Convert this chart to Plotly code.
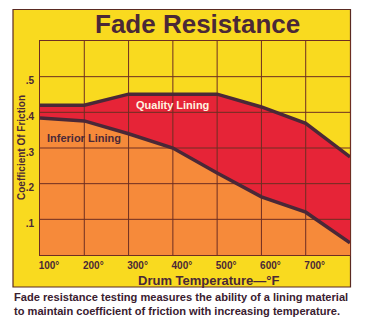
import plotly.graph_objects as go

# ---- data ----
temps = [100, 200, 300, 400, 500, 600, 700, 800]
quality_lining = [0.42, 0.42, 0.451, 0.451, 0.451, 0.415, 0.369, 0.275]
inferior_lining = [0.384, 0.376, 0.340, 0.300, 0.230, 0.163, 0.120, 0.034]
x_tick_vals = [100, 200, 300, 400, 500, 600, 700]
x_tick_text = ["100°", "200°", "300°", "400°", "500°", "600°", "700°"]
y_tick_vals = [0.1, 0.2, 0.3, 0.4, 0.5]
y_tick_text = [".1", ".2", ".3", ".4", ".5"]
x_range = [100, 800]
y_range = [0, 0.6]

YELLOW = "#F9DA1F"
ORANGE = "#F68A3A"
RED = "#E62437"
DARK = "#4A2837"
GRID = "#6E2E22"
FONT = "Liberation Sans"

fig = go.Figure()

# fills
fig.add_trace(go.Scatter(x=temps, y=inferior_lining, mode="lines", fill="tozeroy",
                         fillcolor=ORANGE, line=dict(width=0), hoverinfo="skip"))
fig.add_trace(go.Scatter(x=temps, y=quality_lining, mode="lines", fill="tonexty",
                         fillcolor=RED, line=dict(width=0), hoverinfo="skip"))

# grid lines drawn over fills
gx, gy = [], []
for v in x_tick_vals[1:]:
    gx += [v, v, None]
    gy += [y_range[0], y_range[1], None]
for v in y_tick_vals:
    gx += [x_range[0], x_range[1], None]
    gy += [v, v, None]
fig.add_trace(go.Scatter(x=gx, y=gy, mode="lines", line=dict(color=GRID, width=1),
                         hoverinfo="skip"))

# curves
fig.add_trace(go.Scatter(x=temps, y=inferior_lining, mode="lines",
                         line=dict(color=DARK, width=3.5)))
fig.add_trace(go.Scatter(x=temps, y=quality_lining, mode="lines",
                         line=dict(color=DARK, width=3.5)))

W, H = 369, 324
L, R, T, B = 40, 19, 41, 69
pw, ph = W - L - R, H - T - B

def px_x(p):
    return (p - L) / pw

def px_y(p):
    return (H - B - p) / ph

# yellow box
fig.add_shape(type="rect", xref="paper", yref="paper",
              x0=px_x(13), x1=px_x(350.5), y0=px_y(287), y1=px_y(9.5),
              fillcolor=YELLOW, line=dict(color="#5A2A22", width=1.2), layer="below")

fig.update_layout(
    width=W, height=H,
    margin=dict(l=L, r=R, t=T, b=B, pad=0),
    paper_bgcolor="white", plot_bgcolor=YELLOW,
    showlegend=False,
    font=dict(family=FONT, color=DARK, weight="bold"),
    xaxis=dict(range=x_range, tickvals=x_tick_vals, ticktext=x_tick_text,
               showgrid=False, zeroline=False, showline=True, mirror=True,
               linecolor=GRID, linewidth=1, ticks="", ticklabelshift=9,
               ticklabelstandoff=1,
               tickfont=dict(size=10, color=DARK, family=FONT, weight="bold")),
    yaxis=dict(range=y_range, tickvals=y_tick_vals, ticktext=y_tick_text,
               showgrid=False, zeroline=False, showline=True, mirror=True,
               linecolor=GRID, linewidth=1, ticks="", ticklabelshift=4,
               ticklabelstandoff=3,
               tickfont=dict(size=10, color=DARK, family=FONT, weight="bold")),
)

ann_font = dict(family=FONT, color=DARK, weight="bold")
fig.add_annotation(text="Fade Resistance", xref="paper", yref="paper",
                   x=px_x(197), y=px_y(24), showarrow=False,
                   xanchor="center", yanchor="middle",
                   font=dict(size=26, **ann_font))
fig.add_annotation(text="Coefficient Of Friction", xref="paper", yref="paper",
                   x=px_x(21), y=0.5, textangle=-90, showarrow=False,
                   xanchor="center", yanchor="middle",
                   font=dict(size=10, **ann_font))
fig.add_annotation(text="Drum Temperature—°F", xref="paper", yref="paper",
                   x=px_x(209), y=px_y(280), showarrow=False,
                   xanchor="center", yanchor="middle",
                   font=dict(size=13, **ann_font))
fig.add_annotation(text="Fade resistance testing measures the ability of a lining material<br>"
                        "to maintain coefficient of friction with increasing temperature.",
                   xref="paper", yref="paper", x=px_x(12), y=px_y(303.5),
                   showarrow=False, xanchor="left", yanchor="middle", align="left",
                   font=dict(size=11.1, family=FONT, color="#3A2030", weight="bold"))

# in-chart labels
fig.add_annotation(text="Quality Lining", x=400, y=0.42, showarrow=False,
                   font=dict(size=11, family=FONT, color="#FFF3E0", weight="bold"))
fig.add_annotation(text="Inferior Lining", x=199, y=0.328, showarrow=False,
                   font=dict(size=11, **ann_font))

fig.write_html("out.html")
